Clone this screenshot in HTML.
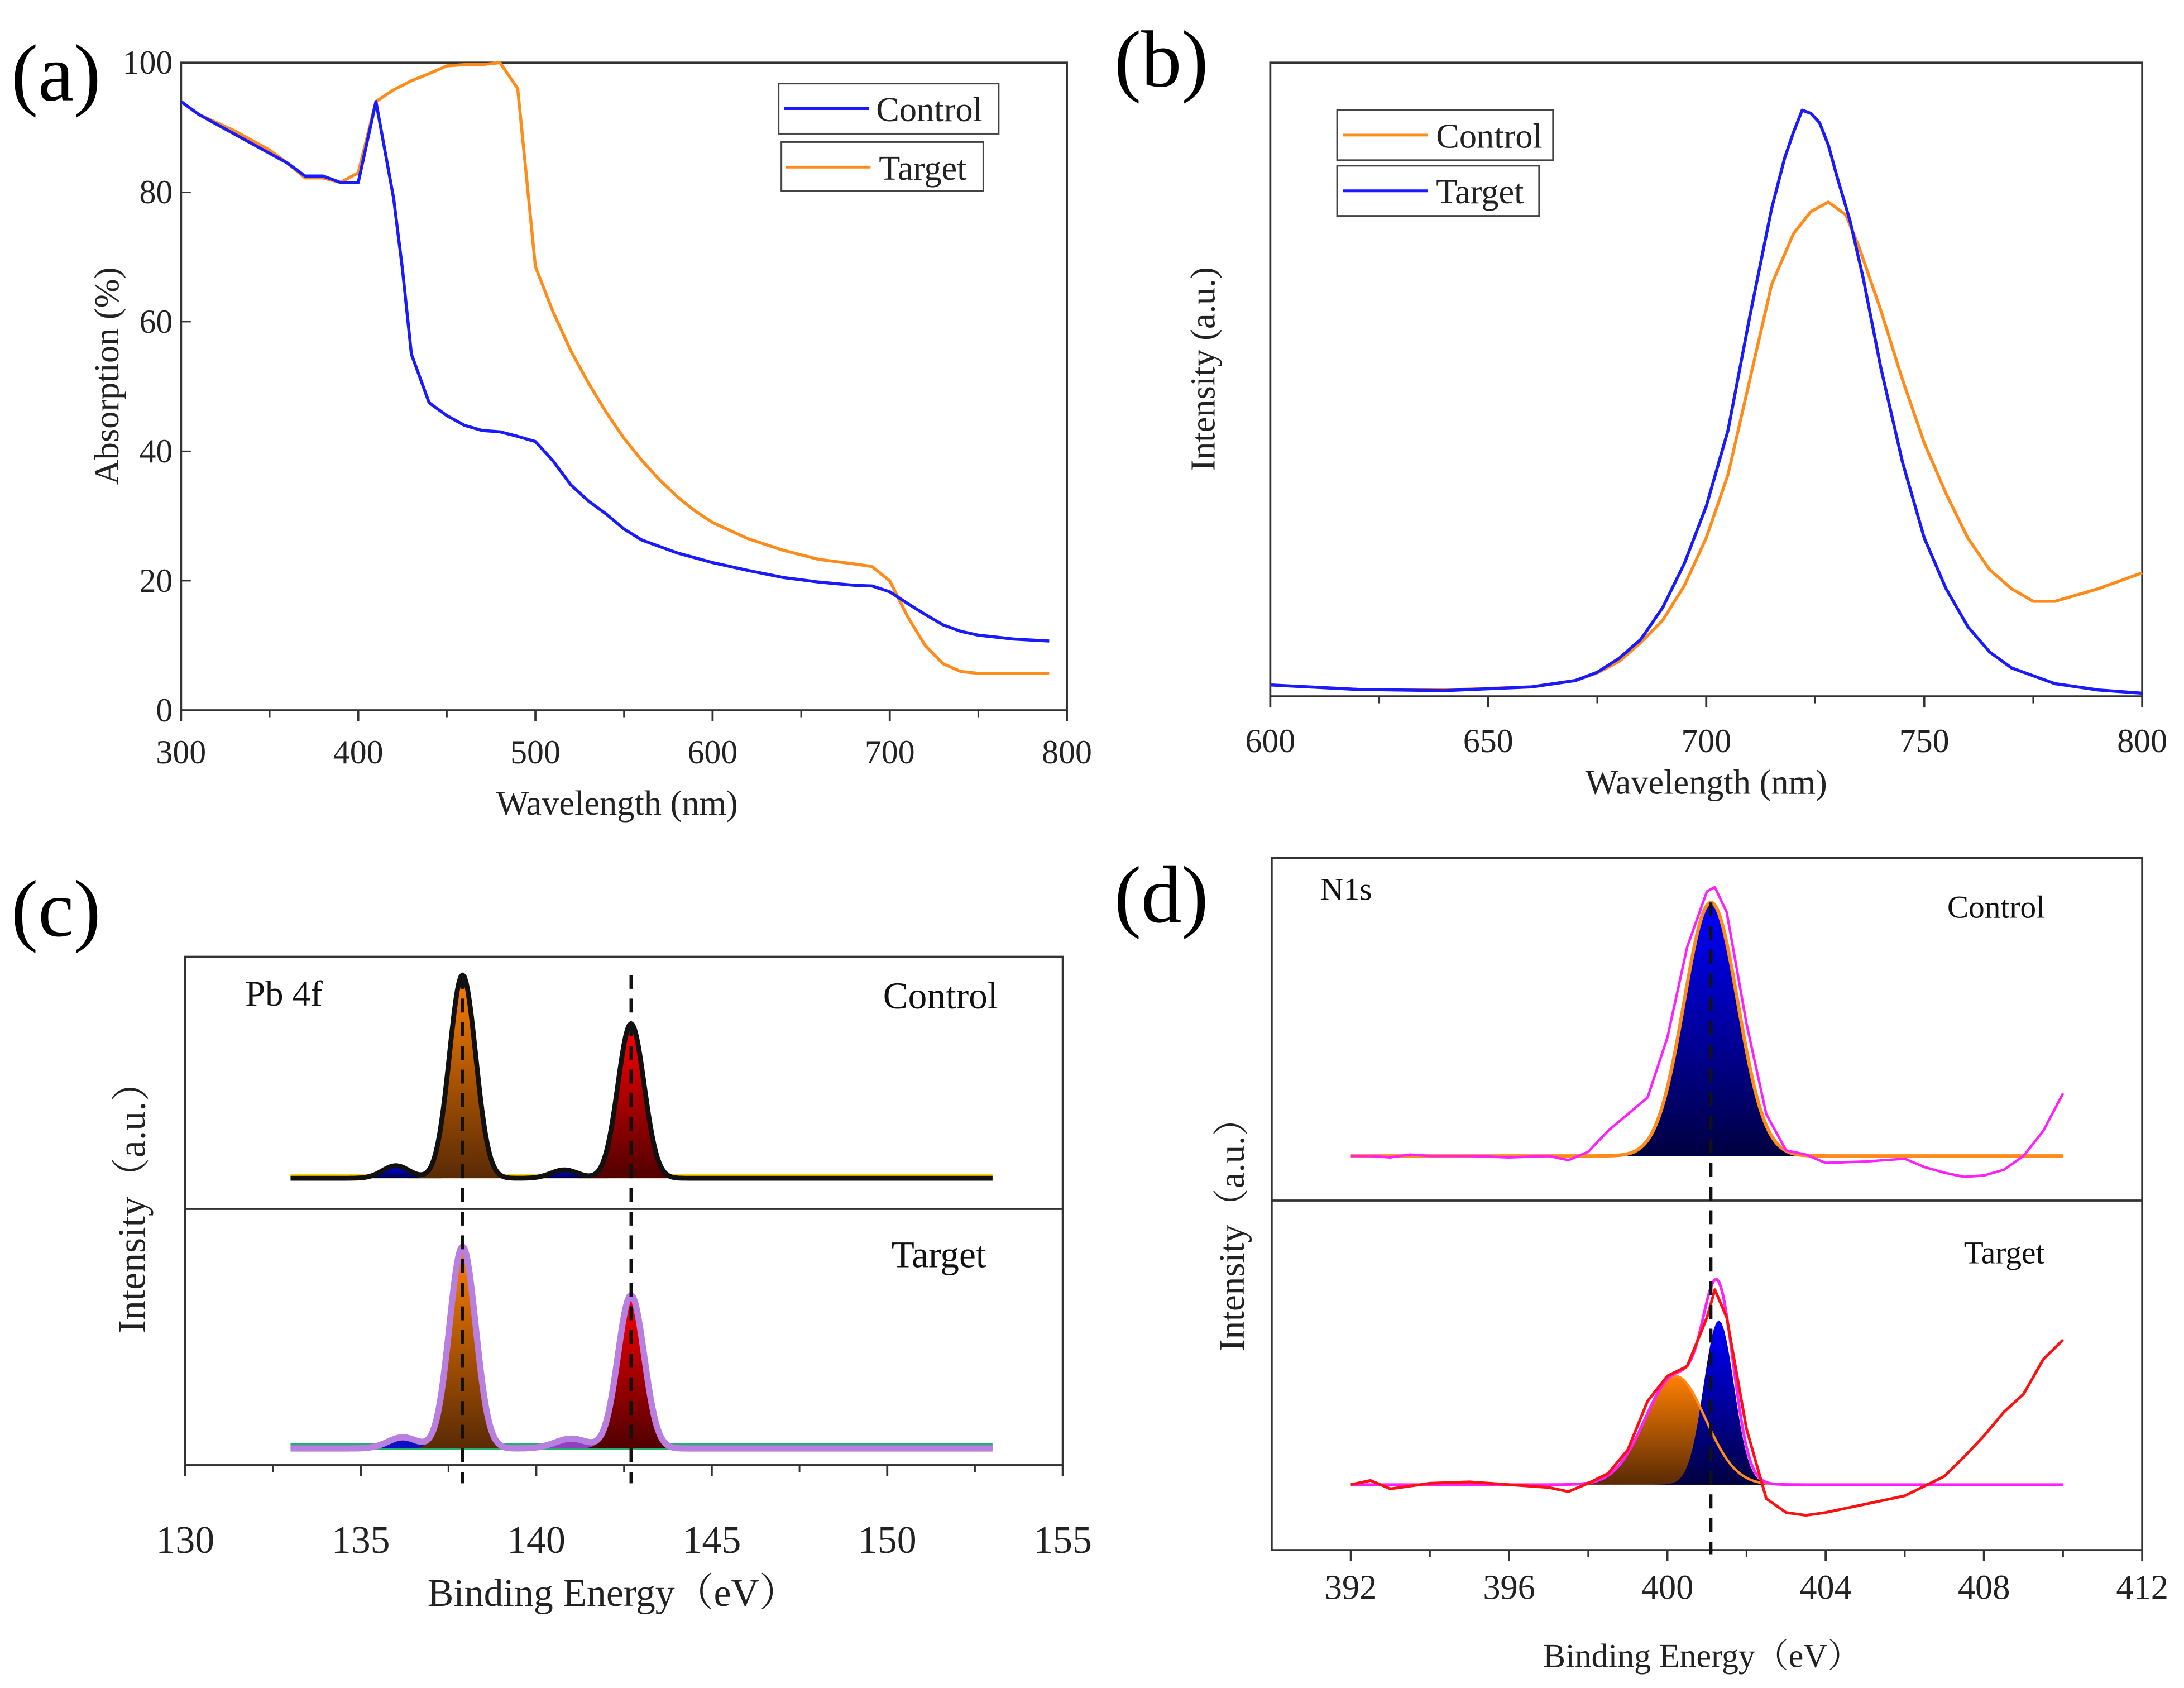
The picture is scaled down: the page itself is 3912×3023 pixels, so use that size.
<!DOCTYPE html>
<html><head><meta charset="utf-8"><style>
html,body{margin:0;padding:0;background:#fff;}
svg{display:block;font-family:"Liberation Serif","Noto Serif CJK SC",serif;}
</style></head><body>
<svg id="fig" xmlns="http://www.w3.org/2000/svg" width="3912" height="3023" viewBox="0 0 1568 1212" preserveAspectRatio="none">
<defs>
<linearGradient id="gOr" x1="0" y1="0" x2="0" y2="1"><stop offset="0" stop-color="#ff8000"/><stop offset="1" stop-color="#5a2a05"/></linearGradient>
<linearGradient id="gBl" x1="0" y1="0" x2="0" y2="1"><stop offset="0" stop-color="#0000ff"/><stop offset="1" stop-color="#000040"/></linearGradient>
<linearGradient id="gRd" x1="0" y1="0" x2="0" y2="1"><stop offset="0" stop-color="#ff0000"/><stop offset="1" stop-color="#500000"/></linearGradient>
</defs>
<rect width="1568" height="1212" fill="#fff"/>
<text x="8" y="72" font-size="58">(a)</text>
<text x="800" y="62" font-size="58">(b)</text>
<text x="8" y="672" font-size="58">(c)</text>
<text x="800" y="662" font-size="58">(d)</text>
<rect x="130" y="45" width="636" height="465" fill="none" stroke="#333" stroke-width="1.5"/>
<rect x="912" y="45" width="626" height="455" fill="none" stroke="#333" stroke-width="1.5"/>
<rect x="133" y="687" width="630" height="365" fill="none" stroke="#333" stroke-width="1.5"/>
<line x1="133" y1="868" x2="763" y2="868" stroke="#333" stroke-width="1.5"/>
<rect x="913" y="616" width="625" height="497" fill="none" stroke="#333" stroke-width="1.5"/>
<line x1="913" y1="862" x2="1538" y2="862" stroke="#333" stroke-width="1.5"/>
<g id="ticks"></g>
<g id="marks"></g>
<text x="443" y="585" font-size="25" text-anchor="middle" fill="#222">Wavelength (nm)</text>
<text transform="translate(85,270) rotate(-90)" font-size="25" text-anchor="middle" fill="#222">Absorption (%)</text>
<text x="1225" y="570" font-size="25" text-anchor="middle" fill="#222">Wavelength (nm)</text>
<text transform="translate(872,265) rotate(-90)" font-size="25" text-anchor="middle" fill="#222">Intensity (a.u.)</text>
<text x="440" y="1153" font-size="28" text-anchor="middle" fill="#222">Binding Energy（eV）</text>
<text transform="translate(104,860) rotate(-90)" font-size="28" text-anchor="middle" fill="#222">Intensity（a.u.）</text>
<text x="1222" y="1197" font-size="24" text-anchor="middle" fill="#222">Binding Energy（eV）</text>
<text transform="translate(893,880) rotate(-90)" font-size="26" text-anchor="middle" fill="#222">Intensity（a.u.）</text>
<text x="176" y="722" font-size="26" fill="#111">Pb 4f</text>
<text x="634" y="724" font-size="27" fill="#111">Control</text>
<text x="640" y="910" font-size="27" fill="#111">Target</text>
<text x="948" y="646" font-size="23" fill="#111">N1s</text>
<text x="1398" y="659" font-size="23" fill="#111">Control</text>
<text x="1410" y="907" font-size="23" fill="#111">Target</text>
<g>
<rect x="559" y="60" width="158" height="36" fill="#fff" stroke="#444" stroke-width="1.2"/>
<line x1="563" y1="78" x2="624" y2="78" stroke="#1a1aff" stroke-width="2"/>
<text x="629" y="87" font-size="25" fill="#222">Control</text>
<rect x="561" y="102" width="145" height="35" fill="#fff" stroke="#444" stroke-width="1.2"/>
<line x1="564" y1="120" x2="625" y2="120" stroke="#ff8c1a" stroke-width="2"/>
<text x="631" y="129" font-size="25" fill="#222">Target</text>
</g>
<g>
<rect x="960" y="79" width="155" height="36" fill="#fff" stroke="#444" stroke-width="1.2"/>
<line x1="964" y1="97" x2="1025" y2="97" stroke="#ff8c1a" stroke-width="2"/>
<text x="1031" y="106" font-size="25" fill="#222">Control</text>
<rect x="960" y="119" width="145" height="36" fill="#fff" stroke="#444" stroke-width="1.2"/>
<line x1="964" y1="137" x2="1025" y2="137" stroke="#1a1aff" stroke-width="2"/>
<text x="1031" y="146" font-size="25" fill="#222">Target</text>
</g>
</svg>
<script>
const aCtrlX=[300,310,330,350,360,370,380,390,400,410,420,425,430,440,450,460,470,480,490,500,510,520,530,540,550,560,580,600,620,640,660,680,690,700,710,720,730,740,750,770,790];
const aCtrlY=[94,92,89,86,84.5,82.5,82.5,81.5,81.5,94,79,68,55,47.5,45.5,44,43.2,43,42.3,41.5,38.5,34.8,32.3,30.3,28,26.3,24.3,22.8,21.6,20.5,19.8,19.3,19.2,18.3,16.5,14.8,13.2,12.2,11.6,11,10.7];
const aTgtX=[300,310,330,350,360,370,380,390,400,410,420,430,440,450,460,470,480,490,500,510,520,530,540,550,560,570,580,590,600,620,640,660,680,690,700,710,720,730,740,750,790];
const aTgtY=[94,92,89.5,86.5,84.5,82.2,82.2,81.5,83,94,95.8,97.2,98.3,99.5,99.7,99.7,100,96,68.5,61.5,55.5,50.5,46,42,38.6,35.6,33,30.8,29,26.5,24.7,23.3,22.6,22.2,20,14.5,10,7.2,6,5.7,5.7];
const aXTicks=[300,400,500,600,700,800];
const aYTicks=[0,20,40,60,80,100];
const bTgtX=[600,620,640,660,670,675,680,685,690,695,700,705,710,715,718,720,722,724,726,728,730,733,736,740,745,750,755,760,765,770,780,790,800];
const bTgtY=[1.8,1.1,0.9,1.5,2.5,3.8,6,9,14,21,30,42,60,77,85,89,92.5,92,90.5,87,82,75,66,52,37,25,17,11,7,4.5,2,1,0.5];
const bCtrlX=[600,620,640,660,670,675,680,685,690,695,700,705,710,715,720,724,728,732,735,738,740,745,750,755,760,765,770,775,780,790,800];
const bCtrlY=[1.8,1.1,1.0,1.5,2.5,3.7,5.5,8.5,12,17.5,25,35,50,65,73,76.5,78,76,71,65,61,50,40,32,25,20,17,15,15,17,19.5];
const bXTicks=[600,650,700,750,800];
const cCtrlCenters=[136.0,137.9,140.8,142.7];
const cCtrlHeights=[9,146,6,111];
const cCtrlWidths=[0.9,0.88,0.9,0.88];
const cTgtCenters=[136.2,137.9,141.0,142.7];
const cTgtHeights=[8,145,7,110];
const cTgtWidths=[1.0,0.88,1.1,0.88];
const cXTicks=[130,135,140,145,150,155];
const dCtrlCenters=[401.1];
const dCtrlHeights=[182];
const dCtrlWidths=[1.6];
const dTgtCenters=[400.2,401.3];
const dTgtHeights=[78,118];
const dTgtWidths=[1.8,0.9];
const dCtrlRawX=[392,392.5,393,393.5,394,395,396,397,397.5,398,398.5,399,399.5,400,400.5,401,401.2,401.5,402,402.5,403,403.5,404,405,406,406.5,407,407.5,408,408.5,409,409.5,410];
const dCtrlRawY=[0,0,-1,1,0,0,-1,0,-3,3,18,30,42,85,150,190,193,175,95,30,4,1,-5,-4,-2,-8,-12,-15,-14,-10,0,18,45];
const dTgtRawX=[392,392.5,393,394,395,396,397,397.5,398,398.5,399,399.5,400,400.5,401,401.2,401.5,402,402.5,403,403.5,404,405,406,407,407.5,408,408.5,409,409.5,410];
const dTgtRawY=[0,3,-3,1,2,0,-2,-5,1,8,25,60,78,85,120,140,120,40,-10,-20,-22,-20,-14,-8,6,20,35,52,65,90,104];
const dXTicks=[392,396,400,404,408,412];

const NS='http://www.w3.org/2000/svg';
const ticksG=document.getElementById('ticks');
const marksG=document.getElementById('marks');
function mk(tag,parent){const e=document.createElementNS(NS,tag);parent.appendChild(e);return e;}
function pathD(xs,ys,fx,fy){return xs.map((x,i)=>(i?'L':'M')+fx(x).toFixed(2)+','+fy(ys[i]).toFixed(2)).join('');}
function gauss(x,c,h,w){return h*Math.exp(-4*Math.LN2*((x-c)/w)*((x-c)/w));}
function grid(x0,x1,n){const r=[];for(let i=0;i<=n;i++)r.push(x0+(x1-x0)*i/n);return r;}

const xa=v=>130+(v-300)/500*636, ya=v=>510-v/100*465;
const xb=v=>912+(v-600)/200*626, yb=v=>500-v/100*455;
const xc=v=>133+(v-130)/25*630;
const xd=v=>913+(v-390)/22*625;

function xTicks(vals,fx,yAxis,fs,ly){
  vals.forEach(v=>{
    const t=mk('line',ticksG);
    
    
    t.setAttribute('x1',fx(v));t.setAttribute('x2',fx(v));t.setAttribute('y1',yAxis);t.setAttribute('y2',yAxis+8);
    t.setAttribute('stroke','#333');t.setAttribute('stroke-width','1.5');
    const l=mk('text',ticksG);
    
    
    l.setAttribute('x',fx(v));l.setAttribute('y',ly);l.setAttribute('font-size',fs);l.setAttribute('text-anchor','middle');l.setAttribute('fill','#222');
    l.textContent=v;
  });
  for(let i=0;i<vals.length-1;i++){
    const m=(vals[i]+vals[i+1])/2;
    const t=mk('line',ticksG);
    
    
    t.setAttribute('x1',fx(m));t.setAttribute('x2',fx(m));t.setAttribute('y1',yAxis);t.setAttribute('y2',yAxis+5);
    t.setAttribute('stroke','#333');t.setAttribute('stroke-width','1.2');
  }
}
xTicks(aXTicks,xa,510,24,548);
xTicks(bXTicks,xb,500,24,540);
xTicks(cXTicks,xc,1052,28,1115);
xTicks(dXTicks,xd,1113,25,1148);
aYTicks.forEach(v=>{
  const t=mk('line',ticksG);
  
  
  t.setAttribute('x1',130);t.setAttribute('x2',137);t.setAttribute('y1',ya(v));t.setAttribute('y2',ya(v));t.setAttribute('stroke','#333');
  const l=mk('text',ticksG);
  
  
  l.setAttribute('x',124);l.setAttribute('y',ya(v)+8);l.setAttribute('font-size',24);l.setAttribute('text-anchor','end');l.setAttribute('fill','#222');
  l.textContent=v;
});

function line(d,color,w,name){
  const p=mk('path',marksG);
  
  
  p.setAttribute('d',d);p.setAttribute('fill','none');p.setAttribute('stroke',color);p.setAttribute('stroke-width',w);p.setAttribute('stroke-linejoin','round');
  return p;
}
function fillPath(d,fill,name){
  const p=mk('path',marksG);
  
  
  p.setAttribute('d',d);p.setAttribute('fill',fill);p.setAttribute('stroke','none');
  return p;
}
line(pathD(aTgtX,aTgtY,xa,ya),'#ff8c1a',2.2,'series-target-a');
line(pathD(aCtrlX,aCtrlY,xa,ya),'#1a1aff',2.2,'series-control-a');
line(pathD(bCtrlX,bCtrlY,xb,yb),'#ff8c1a',2.2,'series-control-b');
line(pathD(bTgtX,bTgtY,xb,yb),'#1a1aff',2.2,'series-target-b');

function compFill(c,h,w,fx,base,fill,name,lo,hi){
  const xs=grid(lo,hi,120);
  let d='M'+fx(lo)+','+base;
  xs.forEach(x=>{d+='L'+fx(x).toFixed(2)+','+(base-gauss(x,c,h,w)).toFixed(2);});
  d+='L'+fx(hi)+','+base+'Z';
  fillPath(d,fill,name);
}
function sumCurve(cs,hs,ws,x){let s=0;cs.forEach((c,i)=>s+=gauss(x,c,hs[i],ws[i]));return s;}
const cGridX=grid(133,153,400);
const cFills=['url(#gBl)','url(#gOr)','url(#gBl)','url(#gRd)'];
const cFillsT=['#1010c0','url(#gOr)','#9040c0','url(#gRd)'];
fillPath('M'+xc(133)+',846 L'+xc(153)+',846 L'+xc(153)+',843 L'+xc(133)+',843Z','#ffd400','baseline-c-control');
cCtrlCenters.forEach((c,i)=>compFill(c,cCtrlHeights[i],cCtrlWidths[i],xc,846,cFills[i],'peak-fill-control-c',c-2,c+2));
line(pathD(cGridX,cGridX.map(x=>sumCurve(cCtrlCenters,cCtrlHeights,cCtrlWidths,x)),xc,v=>846-v),'#111',3.5,'envelope-control-c');
fillPath('M'+xc(133)+',1041 L'+xc(153)+',1041 L'+xc(153)+',1036 L'+xc(133)+',1036Z','#20b070','baseline-c-target');
cTgtCenters.forEach((c,i)=>compFill(c,cTgtHeights[i],cTgtWidths[i],xc,1040,cFillsT[i],'peak-fill-target-c',c-2,c+2));
line(pathD(cGridX,cGridX.map(x=>sumCurve(cTgtCenters,cTgtHeights,cTgtWidths,x)),xc,v=>1040-v),'#b87ee0',4.5,'envelope-target-c');
[cCtrlCenters[1],cCtrlCenters[3]].forEach(c=>{
  const l=mk('line',marksG);
  
  
  l.setAttribute('x1',xc(c));l.setAttribute('x2',xc(c));l.setAttribute('y1',700);l.setAttribute('y2',1065);
  l.setAttribute('stroke','#111');l.setAttribute('stroke-width',2.2);l.setAttribute('stroke-dasharray','10,7');
});
const dGridX=grid(392,410,360);
dCtrlCenters.forEach((c,i)=>compFill(c,dCtrlHeights[i],dCtrlWidths[i],xd,830,'url(#gBl)','peak-fill-control-d',c-3,c+3));
line(pathD(dGridX,dGridX.map(x=>sumCurve(dCtrlCenters,dCtrlHeights,dCtrlWidths,x)),xd,v=>830-v),'#ff8c1a',2.5,'envelope-control-d');
line(pathD(dCtrlRawX,dCtrlRawY,xd,v=>830-v),'#ff20ff',1.8,'raw-control-d');
const dFillsT=['url(#gOr)','url(#gBl)'];
dTgtCenters.forEach((c,i)=>compFill(c,dTgtHeights[i],dTgtWidths[i],xd,1066,dFillsT[i],'peak-fill-target-d',c-4,c+4));
line(pathD(dGridX,dGridX.map(x=>gauss(x,dTgtCenters[0],dTgtHeights[0],dTgtWidths[0])),xd,v=>1066-v),'#ff8c1a',1.8,'component-target-d');
line(pathD(dGridX,dGridX.map(x=>sumCurve(dTgtCenters,dTgtHeights,dTgtWidths,x)),xd,v=>1066-v),'#ff20ff',2,'envelope-target-d');
line(pathD(dTgtRawX,dTgtRawY,xd,v=>1066-v),'#ff1010',2,'raw-target-d');
const dl=mk('line',marksG);


dl.setAttribute('x1',xd(dCtrlCenters[0]));dl.setAttribute('x2',xd(dCtrlCenters[0]));dl.setAttribute('y1',648);dl.setAttribute('y2',1116);
dl.setAttribute('stroke','#111');dl.setAttribute('stroke-width',2.2);dl.setAttribute('stroke-dasharray','10,7');
</script>
</body></html>
